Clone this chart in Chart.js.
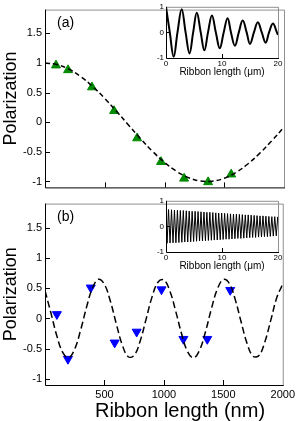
<!DOCTYPE html>
<html><head><meta charset="utf-8">
<script src="https://cdn.jsdelivr.net/npm/chart.js@4"></script>
<style>
html,body{margin:0;padding:0;background:#fff;}
#wrap{position:relative;width:298px;height:421px;overflow:hidden;font-family:"Liberation Sans",Arial,Helvetica,sans-serif;}
canvas{position:absolute;}
.lbl{position:absolute;color:#000;white-space:nowrap;}
</style></head>
<body><div id="wrap">
<canvas id="cA" width="298" height="197" style="left:0;top:0;width:298px;height:197px"></canvas>
<canvas id="cB" width="298" height="227" style="left:0;top:194px;width:298px;height:227px"></canvas>
<canvas id="iA" width="135" height="80" style="left:150px;top:0;width:135px;height:80px"></canvas>
<canvas id="iB" width="135" height="80" style="left:150px;top:194px;width:135px;height:80px"></canvas>
<div class="lbl" style="left:57px;top:14px;font-size:14px;line-height:16px">(a)</div>
<div class="lbl" style="left:57px;top:208px;font-size:14px;line-height:16px">(b)</div>
<div class="lbl" style="left:80px;top:398px;width:200px;text-align:center;font-size:20px;line-height:24px">Ribbon length (nm)</div>
</div>
<script>
// ---- data ----
const mainXTicks = [500, 1000, 1500, 2000];
const mainYTicks = [-1, -0.5, 0, 0.5, 1, 1.5];
const insetXTicks = [0, 10, 20];
const insetYTicks = [-1, 0, 1];

const curveAx = [0,100,200,300,400,500,600,700,800,900,1000,1100,1200,1300,1400,1500,1600,1700,1800,1900,2000];
const curveAy = [1.0,0.973,0.895,0.768,0.600,0.402,0.180,-0.050,-0.278,-0.491,-0.678,-0.828,-0.935,-0.991,-0.995,-0.946,-0.846,-0.701,-0.518,-0.309,-0.082];
const triAx = [92,193,393,578,771,971,1164,1365,1558];
const triAy = [0.96,0.88,0.59,0.19,-0.27,-0.67,-0.95,-1.01,-0.88];

const curveBx = [0,50,100,150,200,250,300,350,400,450,500,550,600,650,700,750,800,850,900,950,1000,1050,1100,1150,1200,1250,1300,1350,1400,1450,1500,1550,1600,1650,1700,1750,1800,1850,1900,1950,2000];
const curveBy = [0.46,0.09,-0.29,-0.566,-0.648,-0.506,-0.189,0.192,0.508,0.648,0.565,0.286,-0.09,-0.437,-0.632,-0.609,-0.376,-0.014,0.353,0.599,0.637,0.456,0.117,-0.261,-0.551,-0.65,-0.525,-0.219,0.163,0.488,0.645,0.58,0.314,-0.059,-0.413,-0.624,-0.612,-0.383,-0.023,0.346,0.57];
const triBx = [100,193,385,586,771,980,1164,1365,1558];
const triBy = [0.07,-0.67,0.51,-0.40,-0.22,0.48,-0.34,-0.34,0.47];

const insetAx = [0,0.68,1.37,2.05,2.8,3.5,4.2,4.85,5.5,6.2,6.85,7.5,8.2,8.9,9.6,10.3,11.0,11.6,12.3,13.0,13.7,14.4,15.0,15.7,16.4,17.1,17.8,18.4,19.1,19.8,20];
const insetAy = [1,0,-0.95,0,0.9,0,-0.82,0,0.77,0,-0.7,0,0.66,0,-0.62,0,0.55,0,-0.52,0,0.46,0,-0.45,0,0.4,0,-0.4,0,0.35,0,-0.1];

const insetBx = [0,0.19,0.45,0.72,0.98,1.25,1.51,1.77,2.04,2.30,2.56,2.83,3.09,3.35,3.62,3.88,4.14,4.41,4.67,4.93,5.20,5.46,5.72,5.99,6.25,6.51,6.78,7.04,7.30,7.57,7.83,8.10,8.36,8.62,8.89,9.15,9.41,9.68,9.94,10.20,10.47,10.73,10.99,11.26,11.52,11.78,12.05,12.31,12.57,12.84,13.10,13.37,13.63,13.89,14.16,14.42,14.68,14.95,15.21,15.47,15.74,16.00,16.26,16.53,16.79,17.05,17.32,17.58,17.84,18.11,18.37,18.63,18.90,19.16,19.42,19.69,19.95,20];
const insetBy = [0.43,-0.66,0.66,-0.65,0.65,-0.64,0.64,-0.64,0.63,-0.63,0.62,-0.62,0.62,-0.61,0.61,-0.61,0.60,-0.60,0.59,-0.59,0.59,-0.58,0.58,-0.57,0.57,-0.57,0.56,-0.56,0.55,-0.55,0.55,-0.54,0.54,-0.53,0.53,-0.53,0.52,-0.52,0.52,-0.51,0.51,-0.50,0.50,-0.50,0.49,-0.49,0.48,-0.48,0.48,-0.47,0.47,-0.47,0.46,-0.46,0.45,-0.45,0.45,-0.44,0.44,-0.43,0.43,-0.43,0.42,-0.42,0.41,-0.41,0.41,-0.40,0.40,-0.40,0.39,-0.39,0.38,-0.38,0.38,-0.37,0.37,0.3];

// ---- helpers ----
Chart.defaults.font.family = '"Liberation Sans", Arial, Helvetica, sans-serif';
Chart.defaults.color = '#000';
const pts = (xs, ys) => xs.map((x, i) => ({x: x, y: ys[i]}));

const framePlugin = {
  id: 'frame',
  afterDatasetsDraw(chart, args, opts) {
    const {ctx, chartArea: a, scales} = chart;
    ctx.save();
    ctx.lineWidth = 1;
    ctx.strokeStyle = '#909090';
    ctx.beginPath();
    ctx.moveTo(a.left, a.top + 0.5); ctx.lineTo(a.right + 0.5, a.top + 0.5); ctx.lineTo(a.right + 0.5, a.bottom);
    ctx.stroke();
    ctx.strokeStyle = '#000';
    ctx.beginPath();
    ctx.moveTo(a.left + 0.5, a.top); ctx.lineTo(a.left + 0.5, a.bottom + 0.5); ctx.lineTo(a.right + 1, a.bottom + 0.5);
    (opts.xTicks || []).forEach(v => {
      const px = Math.round(scales.x.getPixelForValue(v)) + 0.5;
      ctx.moveTo(px, a.bottom); ctx.lineTo(px, a.bottom - opts.len);
    });
    (opts.yTicks || []).forEach(v => {
      const py = Math.round(scales.y.getPixelForValue(v)) + 0.5;
      ctx.moveTo(a.left, py); ctx.lineTo(a.left + opts.len, py);
    });
    ctx.stroke();
    ctx.restore();
  }
};

function mainChart(id, curve, tri, color, rot, dash, showX) {
  return new Chart(document.getElementById(id), {
    type: 'line',
    data: { datasets: [
      { data: curve, borderColor: '#000', borderWidth: 1.5, borderDash: dash, pointRadius: 0, tension: 0.4, fill: false },
      { data: tri, showLine: false, pointStyle: 'triangle', rotation: rot, pointRadius: 5.2, pointBackgroundColor: color, pointBorderColor: color, pointBorderWidth: 1 }
    ]},
    options: {
      responsive: false, animation: false, events: [],
      layout: { padding: { top: 3, right: 14, left: 0, bottom: 0 } },
      plugins: { legend: { display: false }, tooltip: { enabled: false },
        frame: { xTicks: [500, 1000, 1500], yTicks: mainYTicks, len: 5 } },
      scales: {
        x: { type: 'linear', min: 0, max: 2000,
          grid: { display: false, drawTicks: false }, border: { display: false },
          ticks: { display: showX, padding: 3, font: { size: 11 }, maxRotation: 0, callback: v => String(v) },
          afterBuildTicks: s => { s.ticks = mainXTicks.map(v => ({value: v})); },
          afterFit: s => { s.height = showX ? 36 : 6; } },
        y: { type: 'linear', min: -1.1, max: 1.9,
          grid: { display: false, drawTicks: false }, border: { display: false },
          ticks: { padding: 3, font: { size: 11 }, callback: v => String(v) },
          afterBuildTicks: s => { s.ticks = mainYTicks.map(v => ({value: v})); },
          title: { display: true, text: 'Polarization', font: { size: 18 }, padding: { top: 0, bottom: 0 } },
          afterFit: s => { s.width = 45; } }
      }
    },
    plugins: [framePlugin]
  });
}

function insetChart(id, data, lw) {
  return new Chart(document.getElementById(id), {
    type: 'line',
    data: { datasets: [
      { data: data, borderColor: '#000', borderWidth: lw, pointRadius: 0, tension: lw > 1 ? 0.4 : 0, fill: false }
    ]},
    options: {
      responsive: false, animation: false, events: [],
      layout: { padding: { top: 6, right: 7, left: 0, bottom: 0 } },
      plugins: { legend: { display: false }, tooltip: { enabled: false },
        frame: { xTicks: [10], yTicks: [0], len: 4 } },
      scales: {
        x: { type: 'linear', min: 0, max: 20,
          grid: { display: false, drawTicks: false }, border: { display: false },
          ticks: { padding: 1, font: { size: 8 }, maxRotation: 0, callback: v => String(v) },
          afterBuildTicks: s => { s.ticks = insetXTicks.map(v => ({value: v})); },
          title: { display: true, text: 'Ribbon length (\u03bcm)', font: { size: 10 }, padding: { top: 0, bottom: 2 } },
          afterFit: s => { s.height = 22; } },
        y: { type: 'linear', min: -1, max: 1,
          grid: { display: false, drawTicks: false }, border: { display: false },
          ticks: { padding: 2, font: { size: 8 }, callback: v => String(v) },
          afterBuildTicks: s => { s.ticks = insetYTicks.map(v => ({value: v})); },
          afterFit: s => { s.width = 16; } }
      }
    },
    plugins: [framePlugin]
  });
}

mainChart('cA', pts(curveAx, curveAy), pts(triAx, triAy), '#008a00', 0, [5, 3], false);
mainChart('cB', pts(curveBx, curveBy), pts(triBx, triBy), '#0000ff', 180, [7, 3.5], true);
insetChart('iA', pts(insetAx, insetAy), 2);
insetChart('iB', pts(insetBx, insetBy), 1);
</script>
</body></html>
